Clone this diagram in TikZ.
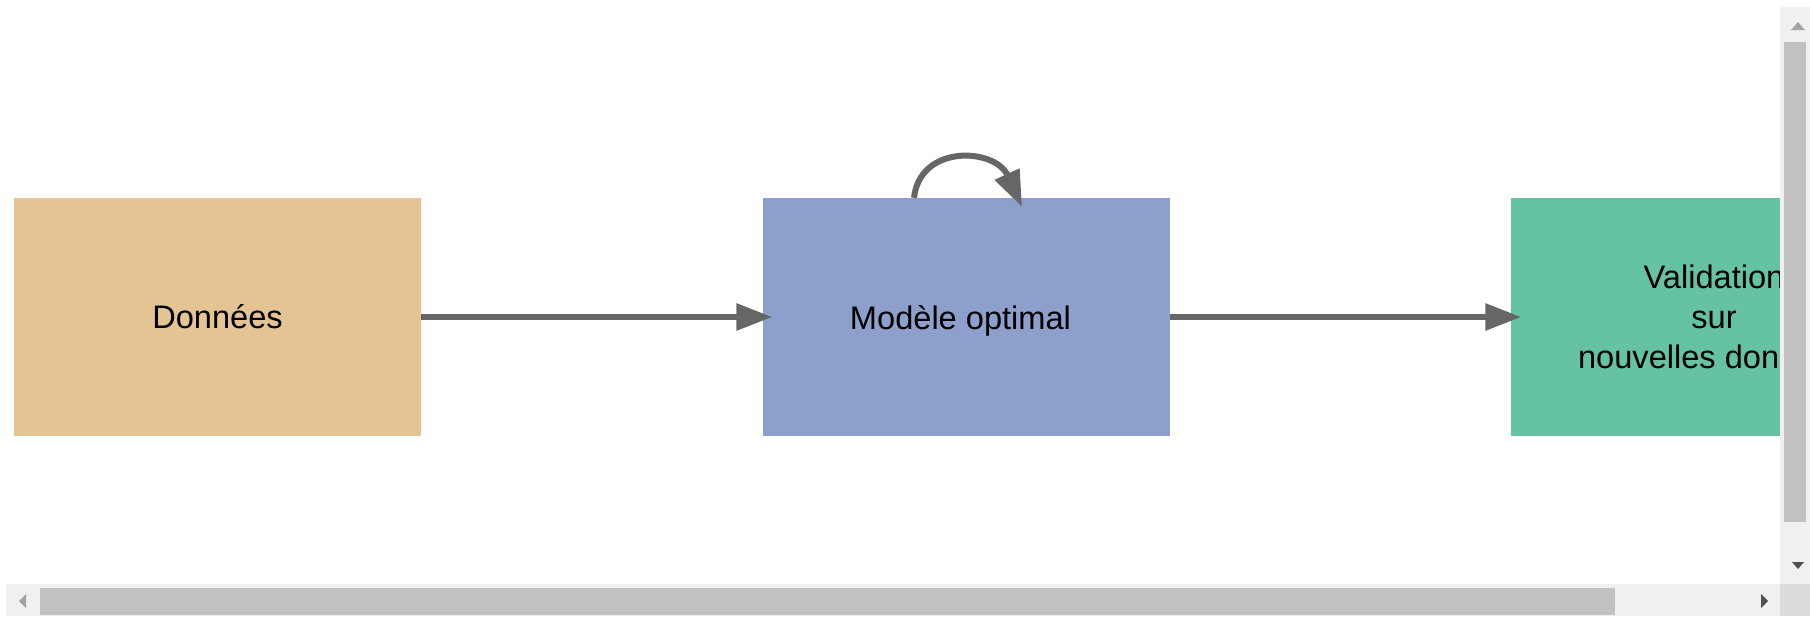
\documentclass[tikz,border=0pt]{standalone}
\usepackage{fontspec}
\setmainfont{Liberation Sans}
\usetikzlibrary{arrows.meta}

\definecolor{dataC}{HTML}{E5C494}
\definecolor{modelC}{HTML}{8DA0CB}
\definecolor{validC}{HTML}{66C2A5}
\definecolor{linkC}{HTML}{666666}
\definecolor{trackC}{HTML}{F0F0F0}
\definecolor{thumbC}{HTML}{C1C1C1}
\definecolor{cornerC}{HTML}{DCDCDC}
\definecolor{dimArrowC}{HTML}{A3A3A3}
\definecolor{liveArrowC}{HTML}{505050}

\tikzset{
  stagebox/.style={minimum width=407pt, minimum height=238pt, inner sep=0pt,
    draw=none, align=center, font=\fontsize{32.6}{40}\selectfont},
  flow/.style={draw=linkC, line width=6pt,
    -{Triangle[length=36pt, width=26pt]}},
  track/.style={fill=trackC},
  thumb/.style={fill=thumbC},
}

\begin{document}
\begin{tikzpicture}[x=1pt, y=-1pt]
  \useasboundingbox (0,0) rectangle (1810,616);
  \fill[white] (0,0) rectangle (1810,616);

  % visible area of the canvas
  \begin{scope}
    \clip (0,0) rectangle (1780,584);
    \node[stagebox, fill=dataC]  (data)  at (217.5,317) {Données};
    \node[stagebox, fill=modelC, text depth=0pt] (model) at (966,317)
      {\hspace*{-11pt}Modèle optimal};
    \node[stagebox, fill=validC] (valid) at (1714,317) {Validation\\sur\\nouvelles données};

    \draw[flow] (data.east) -- ([xshift=10pt]model.west);
    \draw[flow] (model.east) -- ([xshift=11pt]valid.west);

    % feedback loop on the model
    \coordinate (loopS) at ([xshift=-52pt]model.north);
    \coordinate (loopE) at ([xshift=56pt,yshift=-9pt]model.north);
    \draw[flow] (loopS) .. controls +(6pt,54pt) and +(-27pt,59pt) .. (loopE);
  \end{scope}

  % vertical scrollbar
  \fill[track] (1780,7) rectangle (1810,584);
  \fill[thumb] (1784,42) rectangle (1806,522);
  \fill[dimArrowC] (1791,30) -- (1805,30) -- (1798,22) -- cycle;
  \fill[liveArrowC] (1792,562) -- (1804,562) -- (1798,569) -- cycle;

  % horizontal scrollbar
  \fill[track] (6,584) rectangle (1780,616);
  \fill[thumb] (40,588) rectangle (1615,615);
  \fill[dimArrowC] (26,594) -- (26,608) -- (19,601) -- cycle;
  \fill[liveArrowC] (1761,594) -- (1761,608) -- (1768,601) -- cycle;

  % corner
  \fill[cornerC] (1780,584) rectangle (1810,616);
\end{tikzpicture}
\end{document}
